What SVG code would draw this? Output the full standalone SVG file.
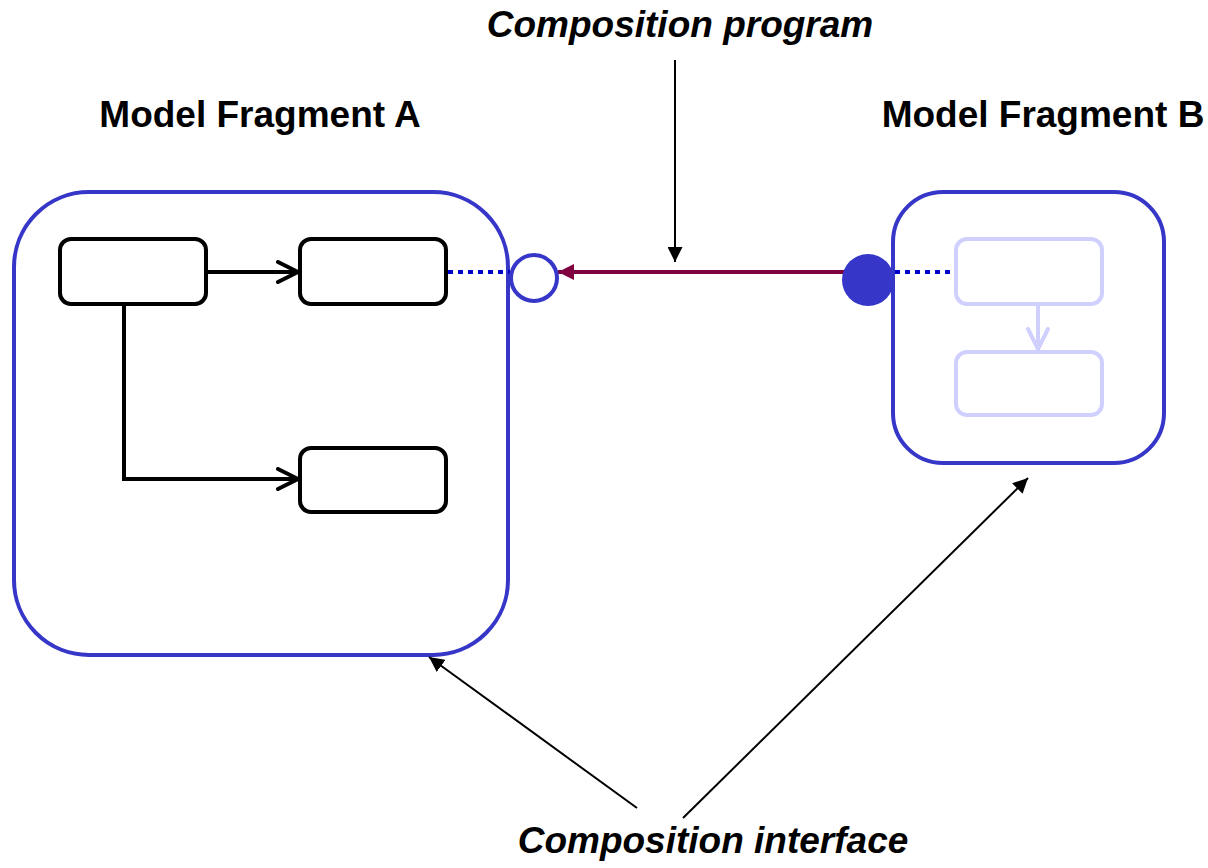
<svg xmlns="http://www.w3.org/2000/svg" width="1208" height="868" viewBox="0 0 1208 868">
<style>
.frag{fill:none;stroke:#3636c8;stroke-width:4}
.box{fill:#fff;stroke:#000;stroke-width:4}
.lbox{fill:#fff;stroke:#d0d0ff;stroke-width:4}
.title{font-family:"Liberation Sans",Arial,sans-serif;font-weight:bold;font-size:37px;fill:#000}
.label{font-family:"Liberation Sans",Arial,sans-serif;font-weight:bold;font-style:italic;font-size:37px;fill:#000}
.dot{stroke:#0000cc;stroke-width:4;stroke-dasharray:5 5;fill:none}
</style>
<defs>
<marker id="open" viewBox="0 0 24 24" refX="22" refY="12" markerWidth="24" markerHeight="24" markerUnits="userSpaceOnUse" orient="auto">
<path d="M2,2 L22,12 L2,22" fill="none" stroke="#000" stroke-width="4" stroke-linecap="round" stroke-linejoin="round"/>
</marker>
<marker id="openL" viewBox="0 0 24 24" refX="22" refY="12" markerWidth="24" markerHeight="24" markerUnits="userSpaceOnUse" orient="auto">
<path d="M2,2 L22,12 L2,22" fill="none" stroke="#d0d0ff" stroke-width="4" stroke-linecap="round" stroke-linejoin="round"/>
</marker>
<marker id="tri" viewBox="0 0 10 10" refX="10" refY="5" markerWidth="15" markerHeight="15" markerUnits="userSpaceOnUse" orient="auto">
<path d="M0,0 L10,5 L0,10 Z" fill="#000"/>
</marker>
<marker id="triM" viewBox="0 0 10 10" refX="10" refY="5" markerWidth="16" markerHeight="16" markerUnits="userSpaceOnUse" orient="auto">
<path d="M0,0 L10,5 L0,10 Z" fill="#800040"/>
</marker>
</defs>

<g id="fragmentA">
<rect class="frag" x="14" y="192" width="494" height="463" rx="75" ry="75"/>
<text class="title" x="260" y="127" text-anchor="middle">Model Fragment A</text>
</g>
<g id="fragmentB">
<rect class="frag" x="893" y="192" width="271" height="271" rx="50" ry="50"/>
<text class="title" x="1043" y="127" text-anchor="middle">Model Fragment B</text>
</g>

<g id="a1"><rect class="box" x="60" y="239" width="146" height="65" rx="11"/></g>
<g id="a2"><rect class="box" x="300" y="239" width="146" height="65" rx="11"/></g>
<g id="a3"><rect class="box" x="300" y="448" width="146" height="64" rx="11"/></g>
<g id="b1"><rect class="lbox" x="956" y="239" width="146" height="65" rx="11"/></g>
<g id="b2"><rect class="lbox" x="956" y="352" width="146" height="63" rx="11"/></g>

<g id="connectors">
<line x1="206" y1="272" x2="298" y2="272" stroke="#000" stroke-width="4" marker-end="url(#open)"/>
<polyline points="124,304 124,479 298,479" fill="none" stroke="#000" stroke-width="4" marker-end="url(#open)"/>
<line x1="1038" y1="304" x2="1038" y2="349" stroke="#d0d0ff" stroke-width="4" marker-end="url(#openL)"/>
<line class="dot" x1="448" y1="272" x2="510" y2="272"/>
<line class="dot" x1="895" y1="272" x2="954" y2="272"/>
<line x1="845" y1="272" x2="558" y2="272" stroke="#800040" stroke-width="4" marker-end="url(#triM)"/>
<line x1="675" y1="60" x2="675" y2="262" stroke="#000" stroke-width="2" marker-end="url(#tri)"/>
<line x1="637" y1="808" x2="429" y2="657" stroke="#000" stroke-width="2" marker-end="url(#tri)"/>
<line x1="683" y1="818" x2="1028" y2="478" stroke="#000" stroke-width="2" marker-end="url(#tri)"/>
</g>

<g id="portA"><circle cx="534" cy="278" r="23" fill="#fff" stroke="#3636c8" stroke-width="4"/></g>
<g id="portB"><circle cx="868" cy="280" r="26" fill="#3636c8"/></g>

<g id="labels">
<text class="label" x="680" y="37" text-anchor="middle">Composition program</text>
<text class="label" x="713" y="853" text-anchor="middle">Composition interface</text>
</g>
</svg>
